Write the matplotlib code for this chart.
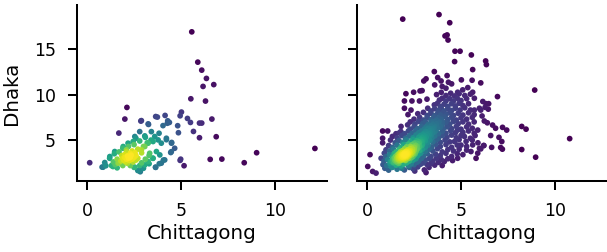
import numpy as np
import matplotlib
matplotlib.use("Agg")
import matplotlib.pyplot as plt

# Panel 1 (left): Chittagong vs Dhaka, sparse sample
left_pts = [
    # outer / sparse points
    (5.57, 16.9), (5.89, 13.57), (6.10, 12.69), (6.35, 11.78), (6.17, 10.9),
    (6.74, 11.1), (5.52, 9.54), (6.30, 9.29), (2.12, 8.59), (2.01, 7.31),
    (2.86, 7.09), (5.02, 8.08), (4.95, 7.67), (5.34, 7.38), (5.50, 6.94),
    (5.98, 6.87), (6.10, 6.87), (6.64, 7.31), (4.15, 7.71), (3.74, 7.53),
    (4.29, 7.12), (4.38, 6.94), (3.27, 6.72), (4.82, 6.58), (5.66, 5.95),
    (4.86, 5.81), (5.98, 5.26), (6.87, 5.37), (1.69, 5.77), (12.12, 4.08),
    (9.02, 3.61), (8.36, 2.51), (7.17, 2.91), (6.55, 2.88), (4.95, 2.77),
    (5.16, 2.18), (0.14, 2.51), (4.50, 4.74), (4.22, 5.04), (4.48, 3.72),
    (4.06, 2.80), (3.84, 2.40), (3.65, 2.00), (2.83, 1.52), (0.80, 2.03),
    (1.00, 2.18),
    # mid cluster
    (3.65, 7.59), (3.25, 6.78), (2.89, 7.14), (4.27, 6.85), (4.04, 6.59),
    (3.83, 5.75), (3.60, 5.39), (3.42, 5.93), (2.80, 5.93), (3.07, 5.46),
    (2.54, 5.39), (2.18, 4.66), (1.92, 4.29), (1.47, 3.74), (1.21, 3.19),
    (0.94, 2.53), (0.85, 2.02), (1.38, 2.09), (1.65, 2.46), (2.89, 3.92),
    (3.07, 4.29), (3.25, 4.66), (3.51, 4.84), (3.78, 5.02), (3.95, 4.66),
    (4.22, 5.20), (4.49, 4.66), (4.45, 3.63), (4.13, 2.82), (3.95, 2.46),
    (3.64, 2.02), (2.80, 1.65), (2.54, 2.02), (4.98, 2.90), (4.66, 4.10),
    (3.69, 3.74), (3.87, 3.37), (3.51, 3.00), (3.25, 2.64), (3.07, 2.27),
    (3.33, 3.55), (2.45, 4.84), (2.09, 3.92),
    (1.50, 2.30), (1.60, 2.90), (1.40, 2.60), (1.30, 2.20), (1.20, 3.00),
    (1.45, 3.50), (1.70, 3.70), (1.90, 4.10), (2.20, 4.30), (2.50, 4.50),
    (2.70, 4.00), (2.90, 3.60), (3.00, 4.30), (3.20, 4.70), (2.80, 4.90),
    (2.60, 5.20), (3.10, 5.30), (3.40, 5.00), (2.90, 2.50), (3.10, 2.90),
    (3.30, 3.30), (2.80, 2.20), (2.50, 2.00), (2.30, 2.20), (1.90, 2.20),
    (1.60, 1.95), (2.70, 1.65), (3.00, 1.90), (3.30, 2.40), (3.50, 3.00),
    # dense core
    (2.20, 3.00), (2.10, 2.90), (2.30, 3.10), (2.00, 3.10), (2.40, 2.90),
    (2.25, 2.75), (2.15, 3.25), (1.95, 2.80), (2.35, 3.35), (2.50, 3.10),
    (1.90, 3.00), (2.05, 2.60), (2.45, 2.60), (2.60, 3.30), (1.80, 2.70),
    (2.30, 3.55), (2.00, 3.40), (2.70, 3.00), (1.70, 2.50), (2.15, 2.45),
    (2.55, 3.60), (1.85, 3.30), (2.60, 2.80), (2.40, 3.80), (2.10, 3.70),
]

# Panel 2 (right): Chittagong vs Dhaka, larger sample
right_pts = [
    # outer / sparse points
    (1.90, 18.3), (3.83, 18.8), (4.40, 17.9), (4.15, 16.45), (4.26, 16.56),
    (4.31, 16.0), (4.68, 14.77), (4.95, 14.77), (5.55, 14.36), (4.66, 13.63),
    (6.31, 13.7), (6.35, 13.3), (5.62, 12.75), (3.58, 12.53), (4.26, 12.09),
    (3.14, 11.73), (3.02, 11.5), (3.76, 11.87), (3.94, 11.5), (3.60, 11.07),
    (4.33, 11.36), (4.50, 11.18), (5.02, 11.62), (5.59, 11.58), (6.05, 11.29),
    (2.93, 10.44), (2.82, 10.4), (2.48, 10.26), (2.07, 10.1), (4.00, 10.9),
    (4.20, 10.7), (5.36, 10.77), (5.09, 10.52), (5.62, 10.26), (4.82, 10.26),
    (8.92, 10.5), (6.94, 9.78), (1.99, 9.3), (2.39, 9.3), (2.79, 9.3),
    (6.16, 9.24), (6.28, 8.6), (6.05, 8.3), (6.12, 7.65), (6.24, 7.1),
    (6.68, 6.65), (7.21, 6.4), (8.23, 6.5), (10.78, 5.16), (5.89, 6.1),
    (6.84, 6.3), (7.43, 6.1), (8.46, 6.2), (6.58, 5.5), (7.02, 5.3),
    (7.17, 4.84), (7.20, 4.0), (7.11, 4.18), (6.63, 4.2), (6.22, 4.4),
    (6.05, 4.03), (8.23, 3.96), (8.97, 3.12), (0.83, 6.0), (1.10, 6.0),
    (0.16, 3.4), (0.04, 2.1), (0.30, 1.55), (0.48, 1.37), (0.83, 4.7),
    (1.72, 5.8), (6.40, 6.9), (6.45, 8.4), (5.98, 8.5), (6.33, 9.0),
    (6.47, 9.0), (1.99, 8.5), (2.34, 8.3), (2.18, 7.8), (3.19, 9.5),
    # main cloud, bottom to top
    (0.95, 1.9), (1.15, 1.7), (1.35, 2.0), (1.60, 1.8), (1.85, 1.9),
    (1.99, 1.72), (2.25, 2.0), (2.45, 1.85), (2.54, 1.6), (2.70, 2.05),
    (3.05, 1.72), (3.14, 1.43), (3.30, 2.0),
    (0.85, 2.3), (1.05, 2.2), (1.28, 2.09), (1.40, 2.5), (1.55, 2.25),
    (1.70, 2.45), (1.80, 2.15), (1.95, 2.35), (2.10, 2.5), (2.20, 2.2),
    (2.35, 2.4), (2.50, 2.3), (2.65, 2.55), (2.85, 2.35), (3.00, 2.5),
    (3.20, 2.3), (3.41, 2.46), (3.60, 2.25), (3.80, 2.55), (4.11, 2.64),
    (4.00, 2.2),
    (0.75, 3.0), (0.90, 2.7), (1.10, 2.85), (1.25, 2.65), (1.40, 2.95),
    (1.50, 2.7), (1.60, 2.9), (1.70, 2.65), (1.75, 3.05), (1.85, 2.8),
    (1.95, 3.0), (2.05, 2.75), (2.15, 2.95), (2.25, 2.7), (2.35, 3.05),
    (2.45, 2.8), (2.60, 2.95), (2.75, 2.7), (2.90, 3.0), (3.10, 2.8),
    (3.30, 2.95), (3.50, 2.7), (3.70, 3.0), (3.95, 2.85), (4.30, 2.95),
    (4.55, 2.75), (4.82, 3.0),
    (0.92, 3.56), (1.00, 3.2), (1.20, 3.4), (1.35, 3.15), (1.45, 3.5),
    (1.55, 3.25), (1.65, 3.45), (1.70, 3.15), (1.80, 3.35), (1.88, 3.2),
    (1.95, 3.5), (2.00, 3.3), (2.10, 3.15), (2.15, 3.45), (2.25, 3.3),
    (2.35, 3.55), (2.45, 3.2), (2.55, 3.45), (2.70, 3.3), (2.85, 3.55),
    (3.00, 3.25), (3.20, 3.5), (3.40, 3.2), (3.65, 3.45), (3.90, 3.3),
    (4.20, 3.55), (4.50, 3.2), (4.80, 3.5), (5.10, 3.4), (5.53, 3.74),
    (5.89, 3.56), (5.80, 3.0),
    (1.01, 3.93), (1.20, 3.8), (1.40, 4.0), (1.55, 3.7), (1.70, 3.95),
    (1.80, 3.65), (1.90, 3.85), (2.00, 4.05), (2.05, 3.7), (2.15, 3.9),
    (2.25, 3.65), (2.30, 4.05), (2.40, 3.8), (2.50, 3.95), (2.60, 3.7),
    (2.70, 4.05), (2.80, 3.85), (2.95, 4.0), (3.10, 3.75), (3.30, 4.0),
    (3.50, 3.8), (3.75, 4.05), (4.00, 3.7), (4.30, 3.95), (4.60, 3.8),
    (4.90, 4.0), (5.30, 3.9),
    (1.15, 4.4), (1.35, 4.2), (1.60, 4.45), (1.80, 4.2), (1.95, 4.5),
    (2.10, 4.25), (2.20, 4.55), (2.30, 4.3), (2.40, 4.5), (2.50, 4.2),
    (2.60, 4.4), (2.70, 4.6), (2.80, 4.3), (2.95, 4.5), (3.10, 4.2),
    (3.25, 4.45), (3.45, 4.25), (3.65, 4.55), (3.90, 4.3), (4.20, 4.5),
    (4.50, 4.2), (4.80, 4.45), (5.00, 4.45), (5.30, 4.3), (5.62, 4.47),
    (5.98, 4.1), (6.20, 4.4),
    (1.25, 5.0), (1.50, 4.7), (1.70, 4.95), (1.90, 4.75), (2.10, 5.0),
    (2.30, 4.8), (2.45, 5.05), (2.55, 4.7), (2.65, 4.95), (2.75, 4.75),
    (2.85, 5.1), (2.95, 4.85), (3.10, 5.0), (3.20, 4.7), (3.35, 4.95),
    (3.50, 4.8), (3.70, 5.05), (3.90, 4.75), (4.15, 5.0), (4.40, 4.8),
    (4.65, 4.84), (4.90, 5.05), (5.27, 4.85), (5.60, 5.0), (5.90, 4.7),
    (0.83, 5.2), (1.35, 5.4), (1.60, 5.25), (1.85, 5.5), (2.05, 5.2),
    (2.25, 5.45), (2.45, 5.25), (2.60, 5.55), (2.75, 5.3), (2.85, 5.5),
    (2.95, 5.2), (3.05, 5.45), (3.15, 5.3), (3.30, 5.55), (3.45, 5.25),
    (3.60, 5.45), (3.80, 5.2), (4.00, 5.5), (4.25, 5.3), (4.50, 5.55),
    (4.75, 5.25), (5.00, 5.5), (5.18, 5.4), (5.50, 5.2), (5.75, 5.5),
    (1.54, 5.7), (1.80, 5.95), (2.00, 5.7), (2.20, 6.0), (2.40, 5.75),
    (2.60, 6.05), (2.75, 5.8), (2.90, 6.0), (3.00, 5.7), (3.10, 5.95),
    (3.20, 5.75), (3.35, 6.05), (3.50, 5.8), (3.65, 6.0), (3.80, 5.7),
    (4.00, 5.95), (4.20, 5.75), (4.45, 6.05), (4.70, 5.8), (4.82, 6.1),
    (5.10, 5.85), (5.40, 6.0), (5.70, 5.75),
    (1.81, 6.5), (2.16, 6.67), (2.30, 6.2), (2.50, 6.45), (2.70, 6.25),
    (2.90, 6.5), (3.05, 6.2), (3.15, 6.45), (3.25, 6.3), (3.40, 6.55),
    (3.50, 6.25), (3.60, 6.5), (3.75, 6.3), (3.90, 6.55), (4.05, 6.2),
    (4.25, 6.45), (4.50, 6.25), (4.75, 6.5), (5.00, 6.2), (5.30, 6.45),
    (5.60, 6.3),
    (2.30, 7.0), (2.55, 6.75), (2.75, 7.05), (2.95, 6.8), (3.10, 7.0),
    (3.25, 6.7), (3.40, 6.95), (3.50, 6.75), (3.60, 7.05), (3.70, 6.8),
    (3.85, 7.0), (4.00, 6.7), (4.20, 6.95), (4.40, 6.75), (4.60, 7.05),
    (4.85, 6.8), (5.10, 7.0), (5.40, 6.75), (5.70, 7.0),
    (2.50, 7.3), (2.80, 7.5), (3.00, 7.2), (3.20, 7.45), (3.40, 7.25),
    (3.55, 7.5), (3.70, 7.2), (3.80, 7.45), (3.95, 7.3), (4.10, 7.55),
    (4.30, 7.25), (4.50, 7.5), (4.75, 7.2), (5.00, 7.45), (5.30, 7.3),
    (5.60, 7.5),
    (2.70, 7.9), (3.00, 8.05), (3.20, 7.7), (3.40, 7.95), (3.60, 7.7),
    (3.77, 8.0), (3.90, 7.75), (4.05, 8.05), (4.20, 7.8), (4.40, 8.0),
    (4.60, 7.7), (4.85, 7.95), (5.10, 7.75), (5.40, 8.0), (5.70, 7.8),
    (3.23, 8.5), (3.40, 8.2), (3.60, 8.45), (3.80, 8.25), (3.95, 8.5),
    (4.10, 8.2), (4.30, 8.45), (4.50, 8.25), (4.70, 8.5), (4.95, 8.3),
    (5.20, 8.55), (5.50, 8.3), (5.71, 8.3),
    (3.58, 8.87), (3.75, 9.05), (3.90, 8.7), (4.10, 8.95), (4.30, 8.7),
    (4.50, 9.0), (4.70, 8.75), (4.90, 9.05), (5.10, 8.8), (5.40, 9.0),
    (3.85, 9.4), (4.00, 9.6), (4.20, 9.3), (4.40, 9.55), (4.60, 9.3),
    (4.80, 9.6), (5.00, 9.35), (5.30, 9.55), (5.71, 9.6),
    (3.70, 10.0), (3.95, 10.25), (4.20, 9.9), (4.45, 10.15), (4.65, 9.85),
    (4.90, 10.1), (5.20, 9.9), (5.50, 10.05),
    # diagonal band
    (2.40, 4.1), (2.55, 4.35), (2.70, 4.55), (2.80, 4.8), (2.95, 5.05),
    (3.05, 5.3), (3.20, 5.6), (3.35, 5.85), (3.45, 6.1), (3.55, 6.35),
    (3.70, 6.6), (3.80, 6.9), (2.50, 4.6), (2.65, 4.05), (2.90, 4.35),
    (3.10, 4.9), (3.30, 5.1), (3.00, 5.6), (3.40, 5.5), (3.60, 5.9),
    (3.20, 6.2), (3.90, 6.4), (4.00, 7.0), (3.50, 7.0),
    (1.22, 2.42), (1.32, 2.62), (1.38, 2.82), (1.45, 3.05), (2.42, 3.98),
    (2.52, 4.18), (2.58, 4.42), (2.68, 4.32), (2.78, 4.62), (2.88, 4.88),
    (2.72, 4.78), (3.02, 5.12), (3.12, 5.42), (2.92, 5.32), (3.28, 5.72),
    (3.18, 5.92), (3.38, 6.22), (2.35, 4.22), (2.48, 3.78), (2.62, 3.92),
    # dense core
    (1.70, 3.0), (1.80, 3.1), (1.90, 3.2), (2.00, 3.35), (2.10, 3.5),
    (1.75, 3.3), (1.85, 3.45), (1.95, 3.1), (2.05, 3.2), (2.15, 3.6),
    (1.65, 3.2), (1.80, 2.95), (1.90, 3.4), (2.00, 3.0), (2.10, 3.25),
    (2.20, 3.4), (1.60, 3.05), (1.70, 3.4), (1.85, 3.6), (2.25, 3.75),
    (1.55, 2.85), (1.75, 2.8), (2.00, 3.55), (2.30, 3.5), (1.95, 2.9),
    (2.10, 3.05), (1.85, 3.25), (2.05, 3.7), (2.40, 3.65), (1.50, 3.0),
    (1.62, 3.12), (1.72, 3.22), (1.82, 3.32), (1.92, 3.42), (2.02, 3.52),
    (1.68, 2.92), (1.78, 3.02), (1.88, 3.12), (1.98, 3.22), (2.08, 3.32),
    (2.18, 3.42), (2.28, 3.62), (1.58, 2.72), (1.68, 2.82), (1.88, 2.92),
    (2.08, 3.12), (2.18, 3.22), (2.22, 3.02), (1.72, 3.52), (1.92, 3.62),
    (2.12, 3.72), (2.32, 3.82), (1.48, 2.78), (1.52, 3.18), (1.78, 3.72),
    (2.38, 3.38), (2.48, 3.52), (2.02, 2.82), (1.42, 2.58), (1.62, 2.52),
    (1.87, 3.28), (1.93, 3.33), (1.97, 3.27), (1.83, 3.18), (2.03, 3.43),
    (1.77, 3.13), (1.89, 3.37), (2.07, 3.38), (1.81, 3.04), (1.96, 3.46),
    (1.74, 3.25), (2.13, 3.28), (1.91, 3.08), (1.99, 3.16), (1.86, 3.52),
    (2.01, 3.62), (1.69, 3.08), (2.16, 3.52), (1.79, 3.41), (1.94, 2.98),
    (1.84, 3.36), (2.06, 3.26), (1.73, 2.98), (2.11, 3.44), (1.89, 3.14),
    (1.95, 3.38), (2.04, 3.08), (1.76, 3.47), (2.19, 3.58), (1.66, 2.96),
]

chittagong_a = [p[0] for p in left_pts]
dhaka_a = [p[1] for p in left_pts]
chittagong_b = [p[0] for p in right_pts]
dhaka_b = [p[1] for p in right_pts]


def densite(x, y):
    # petite KDE gaussienne (regle de Scott), sans scipy
    pts = np.vstack([x, y])
    n = pts.shape[1]
    cov = np.cov(pts) * n ** (-2.0 / 6.0)
    inv = np.linalg.inv(cov)
    diff = pts[:, :, None] - pts[:, None, :]
    d2 = np.einsum('ijk,il,ljk->jk', diff, inv, diff)
    return np.exp(-0.5 * d2).sum(axis=1)


plt.rcParams.update({
    'axes.linewidth': 1.45,
    'xtick.major.width': 1.45,
    'ytick.major.width': 1.45,
    'xtick.major.size': 6.5,
    'ytick.major.size': 6.5,
    'xtick.major.pad': 8.5,
    'ytick.major.pad': 8.5,
    'xtick.labelsize': 12.5,
    'ytick.labelsize': 12.5,
    'axes.labelsize': 14.3,
})

fig = plt.figure(figsize=(6.07, 2.52), dpi=100)
ax1 = fig.add_axes([0.1264, 0.2817, 0.4119, 0.6984])
ax2 = fig.add_axes([0.5876, 0.2817, 0.4119, 0.6984], sharex=ax1, sharey=ax1)

for ax, xs, ys in [(ax1, chittagong_a, dhaka_a), (ax2, chittagong_b, dhaka_b)]:
    xs = np.array(xs)
    ys = np.array(ys)
    z = densite(xs, ys)
    idx = z.argsort()
    ax.scatter(xs[idx], ys[idx], c=z[idx], cmap='viridis', s=17, edgecolors='none')
    ax.spines['top'].set_visible(False)
    ax.spines['right'].set_visible(False)
    ax.set_xlabel('Chittagong', labelpad=3)

ax1.set_xlim(-0.55, 12.75)
ax1.set_ylim(0.5, 19.85)
ax1.set_xticks([0, 5, 10])
ax1.set_yticks([5, 10, 15])
ax1.set_ylabel('Dhaka', labelpad=9)
ax2.tick_params(labelleft=False)

fig.savefig('out.png', dpi=100)
